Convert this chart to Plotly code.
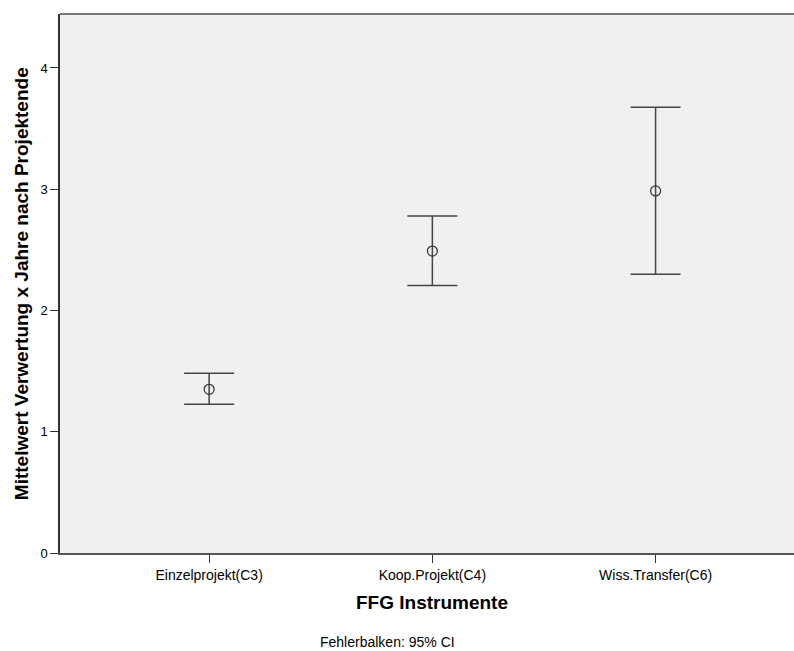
import plotly.graph_objects as go

# Mean and 95% confidence limits per FFG instrument
instruments = ["Einzelprojekt(C3)", "Koop.Projekt(C4)", "Wiss.Transfer(C6)"]
means = [1.35, 2.49, 2.986]
ci_upper = [1.482, 2.78, 3.676]
ci_lower = [1.226, 2.205, 2.299]
y_ticks = [0, 1, 2, 3, 4]

positions = list(range(len(instruments)))
err_plus = [u - m for u, m in zip(ci_upper, means)]
err_minus = [m - l for m, l in zip(means, ci_lower)]

font_family = "Liberation Sans, Arial, sans-serif"

# plot area in pixels: left 60, right 794, top 14, bottom 553
PL, PR, PT, PB = 60, 794, 14, 553
PW, PH = PR - PL, PB - PT


def px_x(x):
    return (x - PL) / PW


def px_y(y):
    return (PB - y) / PH


fig = go.Figure()
fig.add_trace(go.Scatter(
    x=positions,
    y=means,
    mode="markers",
    marker=dict(symbol="circle-open", size=10, color="#333333", line=dict(width=1.2, color="#333333")),
    error_y=dict(type="data", symmetric=False, array=err_plus, arrayminus=err_minus,
                 width=25, thickness=1.5, color="#444444"),
    showlegend=False,
    hoverinfo="skip",
))

fig.update_layout(
    width=794, height=651,
    margin=dict(l=PL, r=794 - PR, t=PT, b=651 - PB),
    paper_bgcolor="white",
    plot_bgcolor="#f0f0f0",
    font=dict(family=font_family, color="#000000", size=13),
    xaxis=dict(
        range=[-0.668, 2.62],
        tickmode="array", tickvals=positions, ticktext=instruments,
        ticks="outside", ticklen=8, tickcolor="#333333",
        showline=True, linecolor="#555555", linewidth=2,
        showgrid=False, zeroline=False,
        tickfont=dict(size=14),
    ),
    yaxis=dict(
        range=[0, 4.445],
        tickmode="array", tickvals=y_ticks,
        ticks="outside", ticklen=8, tickcolor="#333333",
        showline=True, linecolor="#333333", linewidth=1.5,
        showgrid=False, zeroline=False,
        tickfont=dict(size=13),
    ),
    shapes=[dict(type="line", xref="paper", yref="paper", x0=0, x1=1, y0=1, y1=1,
                 line=dict(color="#777777", width=2))],
    annotations=[
        dict(text="<b>Mittelwert Verwertung x Jahre nach Projektende</b>",
             xref="paper", yref="paper", x=px_x(21.5), y=px_y(283.7), textangle=-90,
             showarrow=False, font=dict(size=19), xanchor="center", yanchor="middle"),
        dict(text="<b>FFG Instrumente</b>", xref="paper", yref="paper",
             x=px_x(432), y=px_y(602), showarrow=False,
             font=dict(size=19), xanchor="center", yanchor="middle"),
        dict(text="Fehlerbalken: 95% CI", xref="paper", yref="paper",
             x=px_x(387), y=px_y(642), showarrow=False,
             font=dict(size=14), xanchor="center", yanchor="middle"),
    ],
)

fig.write_html("out.html")
